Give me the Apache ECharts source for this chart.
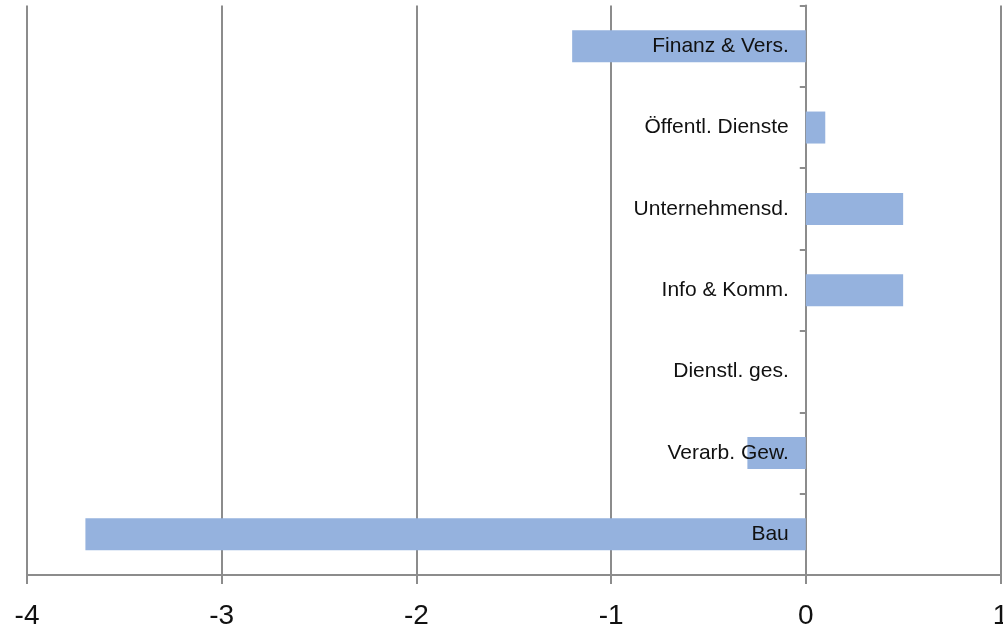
<!DOCTYPE html>
<html>
<head>
<meta charset="utf-8">
<script src="https://cdn.jsdelivr.net/npm/echarts@6/dist/echarts.min.js"></script>
<style>
  html, body { margin: 0; padding: 0; background: #fff; }
  #chart { width: 1003px; height: 628px; }
</style>
</head>
<body>
<div id="chart"></div>
<script>
// sectors, bottom to top
const sectors = ['Bau', 'Verarb. Gew.', 'Dienstl. ges.', 'Info & Komm.', 'Unternehmensd.', 'Öffentl. Dienste', 'Finanz & Vers.']
const changes = [-3.7, -0.3, 0, 0.5, 0.5, 0.1, -1.2]
// anchor for the category names: they sit just left of the zero line
const labelAnchor = [0, 0, 0, 0, 0, 0, 0]

const GRAY = '#8c8c8c'
const FONT = 'Liberation Sans, Arial, sans-serif'

const chart = echarts.init(document.getElementById('chart'))

chart.setOption({
  animation: false,
  grid: { left: 27, right: 2.5, top: 5.5, bottom: 53, containLabel: false, outerBoundsMode: 'none' },
  xAxis: {
    type: 'value',
    min: -4,
    max: 1,
    interval: 1,
    axisLine: { show: true, lineStyle: { color: GRAY, width: 2 } },
    axisTick: { show: true, length: 9, lineStyle: { color: GRAY, width: 2 } },
    axisLabel: { fontFamily: FONT, fontSize: 28, color: '#111', margin: 27 },
    splitLine: { show: true, lineStyle: { color: GRAY, width: 2 } },
  },
  yAxis: {
    type: 'category',
    data: sectors,
    axisLine: { show: true, onZero: true, lineStyle: { color: GRAY, width: 2 } },
    axisTick: { show: true, length: 6, lineStyle: { color: GRAY, width: 2 } },
    axisLabel: { show: false },
    splitLine: { show: false },
  },
  series: [
    {
      type: 'bar',
      data: changes,
      barWidth: 32,
      barGap: '-100%',
      itemStyle: { color: '#95B2DE' },
    },
    {
      // zero-width helper that only carries the category name
      type: 'bar',
      data: labelAnchor,
      barWidth: 32,
      barGap: '-100%',
      z: 4,
      itemStyle: { color: 'transparent' },
      label: {
        show: true,
        position: 'left',
        distance: 17,
        formatter: '{b}',
        fontFamily: FONT,
        fontSize: 21,
        color: '#111',
      },
    },
  ],
})
</script>
</body>
</html>
